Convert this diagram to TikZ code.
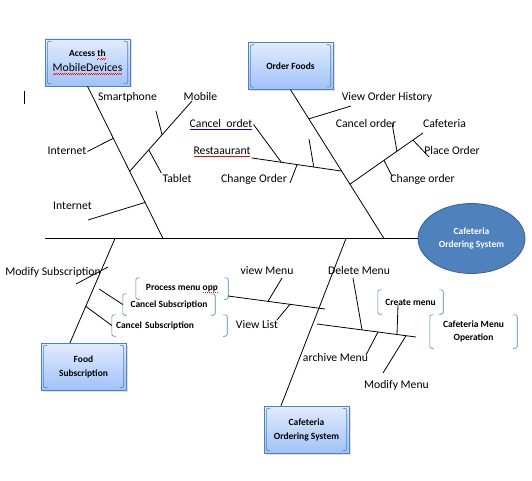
\documentclass[tikz,border=0pt]{standalone}
\usepackage{fontspec}
\setmainfont{Carlito}
\usepackage{xcolor}
\usepackage{tikz}
\usetikzlibrary{calc,shapes.geometric,shadows}
\definecolor{boxblue}{RGB}{79,129,189}
\definecolor{boxtop}{RGB}{226,236,253}
\definecolor{boxbottom}{RGB}{160,194,248}
\definecolor{headblue}{RGB}{79,129,189}
\definecolor{headedge}{RGB}{58,98,150}

% spelling marks under a word
\newcommand\sqline[2]{\leavevmode\setbox0\hbox{#2}\rlap{\hbox to\wd0{\color{#1}\xleaders\hbox{\rule[-2.8pt]{1pt}{0.6pt}\rule[-2.1pt]{1pt}{0.6pt}}\hfill}}\box0}
\newcommand\dotline[2]{\leavevmode\setbox0\hbox{#2}\rlap{\hbox to\wd0{\color{#1}\xleaders\hbox{\kern0.5pt\rule[-2.5pt]{0.8pt}{0.8pt}\kern0.5pt}\hfill}}\box0}

% bracket pair round a node, #1 = inset
\newcommand{\brk}[2][0pt]{%
  \draw[brkline] ([xshift=#1+4pt,yshift=-#1]#2.north west) -- ([xshift=#1,yshift=-#1]#2.north west)
    -- ([xshift=#1,yshift=#1]#2.south west) -- ([xshift=#1+4pt,yshift=#1]#2.south west);
  \draw[brkline] ([xshift=-#1-4pt,yshift=-#1]#2.north east) -- ([xshift=-#1,yshift=-#1]#2.north east)
    -- ([xshift=-#1,yshift=#1]#2.south east) -- ([xshift=-#1-4pt,yshift=#1]#2.south east);}

\begin{document}
\begin{tikzpicture}[x=1pt, y=-1pt,
    every node/.style={font=\fontsize{11.7}{14}\selectfont},
    lbl/.style={inner sep=1pt, text height=8pt, text depth=2.5pt, yshift=-1.5pt},
    fbox/.style={draw=boxblue, top color=boxtop, bottom color=boxbottom, minimum width=85pt,
        minimum height=47pt, inner sep=0pt, align=center, font=\bfseries\fontsize{9.5}{14}\selectfont,
        drop shadow={opacity=0.25, shadow xshift=1.5pt, shadow yshift=-1.5pt}},
    head/.style={ellipse, draw=headedge, line width=0.8pt, fill=headblue, text=white, minimum width=107pt,
        minimum height=70pt, inner sep=0pt, align=center, font=\bfseries\fontsize{9.5}{13.5}\selectfont},
    bbox/.style={minimum height=21pt, inner sep=4pt, align=center, font=\bfseries\fontsize{9.5}{13}\selectfont},
    brkline/.style={draw=boxblue, line width=0.6pt, rounded corners=2pt},
    bone/.style={draw, line width=0.8pt}
]
\useasboundingbox (0,0) rectangle (532,481);

\node[fbox] (acc) at (87.5,62.5) {Access \sqline{red}{th}\\[1pt]{\mdseries\fontsize{11.7}{14}\selectfont\sqline{red}{MobileDevices}}};
\node[fbox] (ord) at (290.5,66) {Order Foods};
\node[fbox] (sub) at (83.5,366.5) {Food\\Subscription};
\node[fbox] (cos) at (306.5,429.5) {Cafeteria\\Ordering System};
\node[head] (head) at (471.5,238.5) {Cafeteria\\Ordering System};
\brk[2.5pt]{acc}
\brk[2.5pt]{ord}
\brk[2.5pt]{sub}
\brk[2.5pt]{cos}

\node[bbox, minimum width=92pt] (pmo) at (182,288.5) {Process menu \dotline{red}{opp}};
\node[bbox, minimum width=92pt] (cs1) at (169,304.5) {Cancel Subscription};
\node[bbox, text width=107pt, align=left] (cs2) at (169.5,325.5) {Cancel Subscription};
\node[bbox, minimum width=65pt, minimum height=24pt] (crm) at (410.5,302) {Create menu};
\node[bbox, minimum width=87pt, minimum height=33pt] (cmo) at (473.5,331.5) {Cafeteria Menu\\Operation};
\brk{pmo}
\brk{cs1}
\brk{cs2}
\brk{crm}
\brk{cmo}

\node[lbl] (lsmart) at (127.5,96) {Smartphone};
\node[lbl] (lmob) at (200.5,96) {Mobile};
\node[lbl] (linet1) at (67,150) {Internet};
\node[lbl] (ltab) at (177,178) {Tablet};
\node[lbl] (linet2) at (72.5,205) {Internet};
\node[lbl] (lvoh) at (387,96) {View Order History};
\node[lbl] (lcord) at (221,123) {\sqline{blue}{Cancel\ \ ordet}};
\node[lbl] (lrest) at (222,150) {\sqline{red}{Restaaurant}};
\node[lbl] (lchg1) at (254,178) {Change Order};
\node[lbl] (lcanc) at (366,123) {Cancel order};
\node[lbl] (lcaf) at (444.5,123) {Cafeteria};
\node[lbl] (lplace) at (452,150) {Place Order};
\node[lbl] (lchg2) at (422.5,178) {Change order};
\node[lbl] (lmods) at (53,271) {Modify Subscription};
\node[lbl] (lview) at (267,270) {view Menu};
\node[lbl] (llist) at (257,324) {View List};
\node[lbl] (ldel) at (359,270) {Delete Menu};
\node[lbl] (larch) at (335.5,357) {archive Menu};
\node[lbl] (lmodm) at (396.5,384) {Modify Menu};

\coordinate (tail) at (45,238.5);
\coordinate (b1) at (163,238.5);
\coordinate (b2) at (384,238.5);
\coordinate (b3) at (115,238.5);
\coordinate (b4) at (346,238.5);
\coordinate (e3) at ([xshift=-13.5pt]sub.north);
\coordinate (e4) at ([xshift=-25.5pt]cos.north);

\draw[line width=0.9pt] (tail) -- (head.west);
\draw[bone] (acc.south) -- (b1);
\draw[bone] (ord.south) -- (b2);
\draw[bone] (b3) -- (e3);
\draw[bone] (b4) -- (e4);

% access mobile devices
\coordinate (m0) at ($(acc.south)!0.559!(b1)$);
\coordinate (m1) at (192,101);
\draw[bone] (linet1.east) -- ($(acc.south)!0.342!(b1)$);
\draw[bone] (88,220) -- ($(acc.south)!0.763!(b1)$);
\draw[bone] (m0) -- (m1);
\draw[bone] (156,111) -- ($(m0)!0.52!(m1)$);
\draw[bone] ($(m0)!0.306!(m1)$) -- (ltab.north west);

% order foods
\coordinate (r0) at (lrest.south east);
\coordinate (r1) at ($(ord.south)!0.547!(b2)$);
\coordinate (c0) at ($(ord.south)!0.635!(b2)$);
\coordinate (c1) at (423,133);
\draw[bone] ($(ord.south)!0.196!(b2)$) -- (351,106);
\draw[bone] (r0) -- (r1);
\draw[bone] (lcord.east) -- ($(r0)!0.33!(r1)$);
\draw[bone] (309,139) -- ($(r0)!0.69!(r1)$);
\draw[bone] ($(r0)!0.505!(r1)$) -- (290,183);
\draw[bone] (c0) -- (c1);
\draw[bone] (392,123) -- ($(c0)!0.644!(c1)$);
\draw[bone] ($(c0)!0.863!(c1)$) -- (429,157);
\draw[bone] ($(c0)!0.466!(c1)$) -- (392,176);

% food subscription
\draw[bone] (76,284) -- (108,267);
\draw[bone] (99,289) -- (cs1.west);
\draw[bone] ($(b3)!0.65!(e3)$) -- (cs2.west);

% cafeteria ordering system
\coordinate (u0) at (228,296);
\coordinate (u1) at (325,309);
\coordinate (d0) at (317,324);
\coordinate (d1) at (416,337);
\draw[bone] (u0) -- (u1);
\draw[bone] (282,278) -- ($(u0)!0.412!(u1)$);
\draw[bone] ($(u0)!0.639!(u1)$) -- (277,320);
\draw[bone] (d0) -- (d1);
\draw[bone] (353,278) -- ($(d0)!0.455!(d1)$);
\draw[bone] (398,305) -- ($(d0)!0.808!(d1)$);
\draw[bone] ($(d0)!0.616!(d1)$) -- (366,355);
\draw[bone] ($(d0)!0.899!(d1)$) -- (383,373);

\draw[line width=0.8pt] (24,91) -- (24,104);

\end{tikzpicture}
\end{document}
